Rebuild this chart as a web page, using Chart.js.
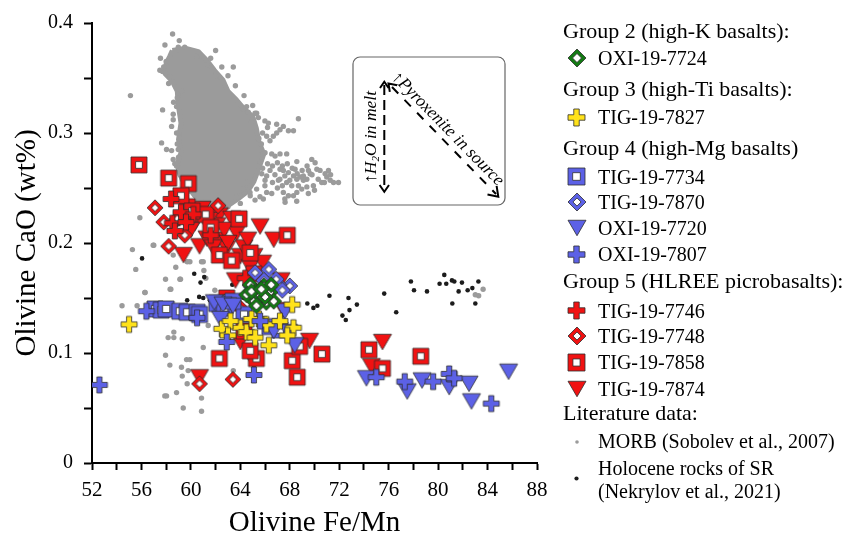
<!DOCTYPE html>
<html>
<head>
<meta charset="utf-8">
<script src="https://cdn.jsdelivr.net/npm/chart.js@4.4.1/dist/chart.umd.min.js"></script>
<style>
  html, body { margin: 0; padding: 0; background: #fff; }
  #wrap { position: relative; width: 847px; height: 536px; overflow: hidden; }
  #plot { position: absolute; left: 0; top: 0; }
  .lg { position: absolute; font-family: 'Liberation Serif', 'Times New Roman', serif; font-size: 22px;
        line-height: 26px; height: 26px; white-space: nowrap; color: #000; }
  .lg.item { font-size: 20px; }
  .mk { position: absolute; }
  #inset { position: absolute; left: 352px; top: 56px; }
</style>
</head>
<body>
<div id="wrap">
  <canvas id="plot" width="847" height="536"></canvas>
  <svg id="inset" width="156" height="152" xmlns="http://www.w3.org/2000/svg">
    <rect x="1" y="1" width="152" height="148" rx="7" ry="7" fill="#fff" stroke="#666" stroke-width="1.2"/>
    <g stroke="#000" stroke-width="2" fill="none">
      <line x1="32.3" y1="29" x2="32.3" y2="133" stroke-dasharray="10 5"/>
      <polyline points="28,32 32.3,25.7 36.6,32"/>
      <polyline points="27.6,129 32.3,135.7 37,129"/>
      <line x1="40" y1="31" x2="144" y2="138" stroke-dasharray="9 9"/>
      <polyline points="37.8,35.9 36.5,27.5 45.2,29.2"/>
      <polyline points="144.6,129.8 146.3,140.7 135.5,138.6"/>
    </g>
    <g font-family="'Liberation Serif','Times New Roman',serif" font-style="italic" font-size="17.5" fill="#000">
      <text transform="translate(24,127) rotate(-90)">↑H<tspan font-size="11" dy="3">2</tspan><tspan dy="-3">O in melt</tspan></text>
      <text transform="translate(39,22) rotate(45.5)">↑Pyroxenite in source</text>
    </g>
  </svg>
  <div id="legend"></div>
</div>
<script>
// ---- Literature data: MORB olivines (Sobolev et al., 2007) ----
// dense core of the MORB field, traced as a closed outline
const morbCore = [
  [58.5,0.375],[59.6,0.377],[60.6,0.374],[61.3,0.366],[61.9,0.357],[62.6,0.348],[63.0,0.338],
  [63.7,0.330],[64.3,0.322],[65.0,0.315],[65.3,0.304],[65.5,0.292],[65.9,0.281],[65.5,0.268],
  [65.1,0.256],[64.6,0.247],[63.8,0.240],[63.0,0.234],[62.0,0.232],[61.1,0.236],[60.3,0.243],
  [59.7,0.252],[59.1,0.262],[58.9,0.272],[59.2,0.282],[59.0,0.294],[59.2,0.309],[59.0,0.324],
  [58.9,0.338],[58.5,0.347],[57.9,0.354],[58.0,0.363],[58.3,0.370],[58.5,0.375]
];
// individual MORB analyses outside the core
const morbDots = [
  [58.52,0.390],[59.06,0.384],[57.90,0.380],[58.98,0.378],[57.54,0.368],[57.71,0.356],[57.49,0.357],
  [58.30,0.351],[63.43,0.360],[60.46,0.369],[59.25,0.338],[58.84,0.324],[57.71,0.321],[58.57,0.317],
  [58.57,0.312],[58.44,0.306],[58.84,0.300],[57.63,0.291],[58.03,0.285],[58.44,0.284],[58.98,0.285],
  [58.57,0.276],[58.84,0.270],[55.11,0.334],[64.51,0.324],[65.32,0.318],[68.70,0.313],[62.08,0.236],
  [63.84,0.242],[58.70,0.272],[59.50,0.378],[61.30,0.362],[62.00,0.352],
  [58.0,0.365],[57.8,0.360],[58.2,0.345],[58.9,0.332],[58.6,0.328],[59.0,0.300],[58.9,0.290],
  [59.0,0.278],[59.3,0.258],[59.8,0.247],[60.5,0.240],[63.0,0.233],[64.0,0.236],[64.8,0.243],
  [61.5,0.232],[62.4,0.229],[62.0,0.375],[61.6,0.368],[62.5,0.360],[63.0,0.352],[63.6,0.343],
  [64.3,0.334],[65.0,0.325],[65.8,0.300],[66.2,0.305],[65.5,0.295],[64.9,0.310],[65.7,0.290],
  [64.24,0.322],[64.64,0.319],[65.19,0.318],[65.46,0.314],[65.99,0.311],[66.27,0.309],[66.94,0.308],
  [67.21,0.303],[67.48,0.306],[67.89,0.302],[68.30,0.302],[66.94,0.300],[66.67,0.297],[66.40,0.293],
  [66.13,0.297],[65.59,0.285],[66.00,0.282],[66.54,0.281],[66.81,0.279],[67.21,0.281],[67.75,0.281],
  [68.57,0.274],[68.43,0.267],[67.21,0.267],[67.48,0.266],[67.89,0.264],[68.30,0.261],[68.83,0.260],
  [69.10,0.261],[69.38,0.258],[69.78,0.276],[70.05,0.273],[70.19,0.267],[70.45,0.266],[70.86,0.263],
  [70.99,0.260],[71.27,0.257],[71.54,0.255],[71.94,0.255],[70.59,0.255],[69.91,0.252],[69.38,0.251],
  [68.97,0.249],[68.57,0.246],[68.30,0.243],[67.89,0.243],[67.62,0.237],[67.08,0.257],[66.13,0.261],
  [65.99,0.252],[66.54,0.245],[65.86,0.240],[65.59,0.242],[65.19,0.239],[64.78,0.246],[64.51,0.255],
  [64.24,0.249],[63.97,0.243],[63.70,0.242],[65.73,0.263],[67.75,0.255],[68.16,0.252],[68.57,0.258],
  [69.51,0.266],[69.65,0.263],[71.13,0.266],[69.10,0.257],[68.70,0.252],[67.48,0.246],[65.32,0.249],
  [66.13,0.246],[68.56,0.238],[67.60,0.240],
  [66.2,0.272],[66.6,0.270],[67.0,0.273],[67.4,0.270],[67.8,0.272],[68.2,0.268],[66.4,0.266],
  [66.8,0.262],[67.2,0.258],[67.6,0.261],[68.0,0.257],[68.6,0.263],[69.0,0.266],[69.4,0.270],
  [66.0,0.257],[66.6,0.255],[67.0,0.250],[67.4,0.252],[65.8,0.268],[65.6,0.274],[69.8,0.262],
  [70.3,0.258],[70.8,0.255],[71.3,0.262],[70.0,0.248],[69.5,0.245],
  [55.87,0.223],[55.27,0.194],[55.54,0.176],[57.00,0.198],[57.95,0.167],[58.38,0.158],[59.11,0.167],
  [58.78,0.178],[59.70,0.183],[60.86,0.183],[61.05,0.175],[61.21,0.168],[61.94,0.157],[56.27,0.155],
  [54.43,0.143],[55.65,0.143],[59.16,0.167],[58.32,0.158],[56.30,0.155],[58.62,0.119],[58.62,0.114],
  [58.16,0.114],[59.30,0.113],[57.95,0.098],[59.65,0.094],[59.92,0.094],[58.30,0.089],[59.24,0.087],
  [59.78,0.084],[59.30,0.079],[60.46,0.072],[59.70,0.072],[58.84,0.064],[57.89,0.061],[58.03,0.061],
  [60.86,0.059],[59.38,0.050],[60.86,0.047],[61.40,0.125],[63.43,0.084],[61.00,0.105],[58.57,0.189],
  [59.92,0.183],[61.00,0.183],[56.95,0.198],
  [83.64,0.158],[83.01,0.153],[83.28,0.152]
];
// ---- Literature data: Holocene rocks of SR (Nekrylov et al., 2021) ----
const holocene = [
  [69.42,0.145],[69.91,0.141],[70.23,0.143],[71.21,0.152],[72.75,0.150],[72.83,0.139],[73.43,0.144],
  [72.26,0.134],[72.53,0.130],[75.64,0.154],[76.61,0.137],[77.80,0.165],[78.05,0.157],[79.10,0.156],
  [80.12,0.163],[80.50,0.171],[80.66,0.163],[81.12,0.166],[81.31,0.165],[81.93,0.164],[81.66,0.156],
  [81.15,0.145],[82.39,0.157],[82.77,0.159],[83.26,0.165],[83.01,0.145],[56.05,0.186],[60.27,0.172],
  [60.78,0.164],[61.08,0.169],[60.67,0.151],[59.70,0.148],[61.00,0.150],[61.54,0.148],[64.29,0.150],
  [63.35,0.162]
];
// ---- Group 2 (high-K basalts) ----
const oxi7724 = [
  [64.8,0.162],[65.3,0.156],[65.9,0.161],[66.4,0.155],[65.1,0.147],[66.1,0.146],[66.7,0.147],
  [65.6,0.152],[64.5,0.153],[66.5,0.162],[65.3,0.143],[64.9,0.156],[66.0,0.151],[65.7,0.158]
];
// ---- Group 3 (high-Ti basalts) ----
const tig7827 = [
  [55.0,0.126],[62.5,0.122],[64.0,0.123],[64.5,0.119],[65.2,0.114],[66.3,0.107],[65.5,0.131],
  [68.2,0.144],[68.3,0.123],[67.8,0.116],[63.2,0.129],[66.1,0.126],[67.2,0.129],[64.9,0.131],[63.0,0.116]
];
// ---- Group 4 (high-Mg basalts) ----
const tig7734 = [
  [57.1,0.140],[57.6,0.139],[58.0,0.140],[59.1,0.138],[59.7,0.137],[60.5,0.137],[60.7,0.135],
  [62.1,0.145],[62.7,0.141],[64.3,0.135],[66.4,0.124],[67.2,0.121],[63.4,0.147]
];
const tig7870 = [
  [65.2,0.173],[66.3,0.176],[68.0,0.161],[67.1,0.162],[65.6,0.155],[66.4,0.158],[66.9,0.167],
  [65.9,0.166],[67.4,0.157],[64.9,0.160]
];
const oxi7720 = [
  [61.9,0.146],[62.6,0.144],[63.4,0.143],[62.4,0.131],[66.7,0.120],[67.6,0.138],[68.4,0.107],
  [67.9,0.119],[74.2,0.077],[77.5,0.065],[78.7,0.075],[80.9,0.069],[82.5,0.072],[82.7,0.056],[85.7,0.083]
];
const oxi7807 = [
  [52.6,0.071],[56.4,0.138],[60.5,0.132],[62.9,0.110],[65.1,0.080],[65.6,0.129],[75.0,0.078],
  [77.3,0.074],[79.6,0.074],[80.9,0.081],[81.3,0.077],[84.3,0.054]
];
// ---- Group 5 (HLREE picrobasalts) ----
const tig7746 = [
  [58.4,0.240],[58.5,0.218],[58.7,0.211],[59.2,0.228],[60.2,0.226],[61.6,0.207],[64.4,0.168],
  [59.6,0.219]
];
const tig7748 = [
  [57.1,0.232],[57.8,0.219],[58.2,0.197],[62.2,0.234],[59.5,0.207],[58.9,0.222],[60.7,0.072],
  [63.4,0.076],[64.0,0.141]
];
const tig7858 = [
  [55.8,0.271],[58.2,0.259],[59.8,0.254],[59.7,0.233],[59.2,0.243],[63.9,0.222],[67.8,0.207],
  [62.3,0.189],[64.8,0.191],[62.9,0.150],[62.3,0.095],[65.3,0.095],[64.8,0.102],[68.2,0.093],
  [68.6,0.078],[70.6,0.099],[74.4,0.103],[75.5,0.086],[78.6,0.097],[68.8,0.106],[61.2,0.226],
  [64.3,0.120],[60.1,0.229],[61.6,0.214],[63.3,0.184],[65.1,0.172]
];
const tig7874 = [
  [60.9,0.231],[62.3,0.225],[60.3,0.218],[62.1,0.216],[63.7,0.209],[65.6,0.215],[66.7,0.203],
  [60.7,0.197],[59.4,0.189],[62.2,0.203],[62.9,0.195],[64.0,0.188],[65.1,0.188],[60.0,0.212],
  [61.3,0.204],[63.3,0.222],[61.5,0.221],[64.3,0.196],[63.6,0.166],[67.3,0.166],[60.7,0.078],
  [65.1,0.092],[64.0,0.110],[69.6,0.111],[75.5,0.110],[74.6,0.088],[67.5,0.139],
  [61.0,0.224],[62.7,0.212],[63.0,0.200],[64.6,0.203],[61.8,0.196],[64.8,0.178],[65.8,0.182]
];

// axis ranges and tick spacing
const xRange = [52, 88], xStep = 2, xLabelEvery = 4;
const yRange = [0, 0.4], yStep = 0.05;

// ---- marker glyphs ----
const RED = '#f01212', BLUE = '#5c61e6', YELLOW = '#ffe21a', GREEN = '#137a13';
function marker(kind, color, size, inner) {
  const w = Math.ceil(size) + 4;
  const c = document.createElement('canvas');
  c.width = w; c.height = w;
  const g = c.getContext('2d');
  const m = w / 2, h = size / 2;
  g.lineWidth = 1;
  g.strokeStyle = 'rgba(45,45,45,0.8)';
  g.lineJoin = 'miter';
  const path = pts => {
    g.beginPath();
    pts.forEach(([x, y], i) => i ? g.lineTo(m + x, m + y) : g.moveTo(m + x, m + y));
    g.closePath();
  };
  const paint = fill => { g.fillStyle = fill; g.fill(); g.stroke(); };
  if (kind === 'square') {
    path([[-h,-h],[h,-h],[h,h],[-h,h]]); paint(color);
    const q = h * inner;
    path([[-q,-q],[q,-q],[q,q],[-q,q]]); paint('#fff');
  } else if (kind === 'diamond') {
    path([[0,-h],[h,0],[0,h],[-h,0]]); paint(color);
    const q = h * inner;
    path([[0,-q],[q,0],[0,q],[-q,0]]); paint('#fff');
  } else if (kind === 'tri') {
    const t = h * 0.86;
    path([[-h,-t],[h,-t],[0,t]]); paint(color);
  } else if (kind === 'plus') {
    const a = size * 0.16;
    path([[-a,-h],[a,-h],[a,-a],[h,-a],[h,a],[a,a],[a,h],[-a,h],[-a,a],[-h,a],[-h,-a],[-a,-a]]);
    paint(color);
  }
  return c;
}
function dot(color, r) {
  const c = document.createElement('canvas');
  c.width = c.height = Math.ceil(r * 2) + 2;
  const g = c.getContext('2d');
  g.fillStyle = color;
  g.beginPath(); g.arc(c.width / 2, c.height / 2, r, 0, Math.PI * 2); g.fill();
  return c;
}

const glyph = {
  oxi7724: s => marker('diamond', GREEN, s, 0.5),
  tig7827: s => marker('plus', YELLOW, s),
  tig7734: s => marker('square', BLUE, s, 0.45),
  tig7870: s => marker('diamond', BLUE, s, 0.45),
  oxi7720: s => marker('tri', BLUE, s),
  oxi7807: s => marker('plus', BLUE, s),
  tig7746: s => marker('plus', RED, s),
  tig7748: s => marker('diamond', RED, s, 0.45),
  tig7858: s => marker('square', RED, s, 0.42),
  tig7874: s => marker('tri', RED, s)
};
const plotSize = { oxi7724: 16, tig7827: 16, tig7734: 16, tig7870: 16, oxi7720: 18, oxi7807: 16,
                   tig7746: 16, tig7748: 16, tig7858: 16, tig7874: 18 };

const pts = a => a.map(([x, y]) => ({ x, y }));
const series = [
  ['OXI-19-7724', oxi7724, 'oxi7724', 1],
  ['TIG-19-7870', tig7870, 'tig7870', 2],
  ['OXI-19-7807', oxi7807, 'oxi7807', 3],
  ['TIG-19-7827', tig7827, 'tig7827', 4],
  ['OXI-19-7720', oxi7720, 'oxi7720', 5],
  ['TIG-19-7734', tig7734, 'tig7734', 6],
  ['TIG-19-7746', tig7746, 'tig7746', 7],
  ['TIG-19-7748', tig7748, 'tig7748', 8],
  ['TIG-19-7858', tig7858, 'tig7858', 9],
  ['TIG-19-7874', tig7874, 'tig7874', 10]
];
const datasets = series.map(([label, arr, key, order]) => ({
  label, data: pts(arr), order,
  pointStyle: glyph[key](plotSize[key]), pointRadius: 8, pointHoverRadius: 8
}));
datasets.push(
  { label: 'Holocene rocks of SR', data: pts(holocene), order: 18,
    pointStyle: 'circle', pointRadius: 2.3, backgroundColor: '#1c1c1c', borderWidth: 0 },
  { label: 'MORB', data: pts(morbDots), order: 19,
    pointStyle: 'circle', pointRadius: 2.7, backgroundColor: '#9b9b9b', borderWidth: 0 },
  { label: 'MORB field', data: pts(morbCore), order: 20, showLine: true, fill: 'shape',
    backgroundColor: '#9b9b9b', borderColor: '#9b9b9b', borderWidth: 5, borderJoinStyle: 'round',
    pointRadius: 0, tension: 0 }
);

const serif = "'Liberation Serif','Times New Roman',serif";
const axisGrid = { display: true, drawOnChartArea: false, drawTicks: true, tickWidth: 2,
                   tickColor: '#000', color: '#000' };

new Chart(document.getElementById('plot'), {
  type: 'scatter',
  data: { datasets },
  options: {
    responsive: false,
    animation: false,
    devicePixelRatio: 1,
    events: [],
    layout: { padding: { left: 0, right: 310, top: 19, bottom: 0 } },
    plugins: { legend: { display: false }, tooltip: { enabled: false } },
    scales: {
      x: {
        type: 'linear', position: 'bottom', min: xRange[0], max: xRange[1],
        afterFit: s => { s.height = 73; },
        ticks: { stepSize: xStep, autoSkip: false, maxRotation: 0, padding: 8, color: '#000',
                 font: { family: serif, size: 21 },
                 callback: v => (v % xLabelEvery === 0 ? String(v) : '') },
        grid: Object.assign({ tickLength: 7 }, axisGrid),
        border: { display: true, color: '#000', width: 2 },
        title: { display: true, text: 'Olivine Fe/Mn', color: '#000',
                 font: { family: serif, size: 29, lineHeight: 0.9 }, padding: { top: 0, bottom: 0 } }
      },
      y: {
        type: 'linear', position: 'left', min: yRange[0], max: yRange[1],
        afterFit: s => { s.width = 92; },
        ticks: { stepSize: yStep, autoSkip: false, padding: 11, color: '#000',
                 font: { family: serif, size: 20 },
                 callback: v => { const t = Math.round(v * 100); return t % 10 === 0 ? String(t / 100) : ''; } },
        grid: Object.assign({ tickLength: 8 }, axisGrid),
        border: { display: true, color: '#000', width: 2 },
        title: { display: true, text: 'Olivine CaO (wt%)', color: '#000',
                 font: { family: serif, size: 29, lineHeight: 0.9 }, padding: { top: 14, bottom: 0 } }
      }
    }
  }
});

// ---- legend ----
const legendRows = [
  { text: 'Group 2 (high-K basalts):', y: 30.8 },
  { text: 'OXI-19-7724', y: 57.8, key: 'oxi7724' },
  { text: 'Group 3 (high-Ti basalts):', y: 89.2 },
  { text: 'TIG-19-7827', y: 117.3, key: 'tig7827' },
  { text: 'Group 4 (high-Mg basalts)', y: 147.5 },
  { text: 'TIG-19-7734', y: 176.7, key: 'tig7734' },
  { text: 'TIG-19-7870', y: 202.3, key: 'tig7870' },
  { text: 'OXI-19-7720', y: 228.4, key: 'oxi7720' },
  { text: 'OXI-19-7807', y: 254.1, key: 'oxi7807' },
  { text: 'Group 5 (HLREE picrobasalts):', y: 280.8 },
  { text: 'TIG-19-7746', y: 310.5, key: 'tig7746' },
  { text: 'TIG-19-7748', y: 335.9, key: 'tig7748' },
  { text: 'TIG-19-7858', y: 362.2, key: 'tig7858' },
  { text: 'TIG-19-7874', y: 388.8, key: 'tig7874' },
  { text: 'Literature data:', y: 412.5 },
  { text: 'MORB (Sobolev et al., 2007)', y: 440.8, dot: ['#9b9b9b', 1.8], dotY: 441.7 },
  { text: 'Holocene rocks of SR', y: 467.5, dot: ['#1c1c1c', 2.1], dotY: 478.3 },
  { text: '(Nekrylov et al., 2021)', y: 490.8, item: true }
];
const legendSize = { oxi7724: 18, tig7827: 17, tig7734: 17, tig7870: 18, oxi7720: 18, oxi7807: 17,
                     tig7746: 17, tig7748: 18, tig7858: 17, tig7874: 18 };
const lg = document.getElementById('legend');
const markX = 576.7;
legendRows.forEach(r => {
  const d = document.createElement('div');
  const isItem = r.key || r.dot || r.item;
  d.className = isItem ? 'lg item' : 'lg';
  d.textContent = r.text;
  d.style.left = (isItem ? 598 : 563) + 'px';
  d.style.top = (r.y - 13) + 'px';
  lg.appendChild(d);
  let c = null, cy = r.y;
  if (r.key) c = glyph[r.key](legendSize[r.key]);
  if (r.dot) { c = dot(r.dot[0], r.dot[1]); cy = r.dotY; }
  if (c) {
    c.className = 'mk';
    c.style.left = (markX - c.width / 2) + 'px';
    c.style.top = (cy - c.height / 2) + 'px';
    lg.appendChild(c);
  }
});
</script>
</body>
</html>
